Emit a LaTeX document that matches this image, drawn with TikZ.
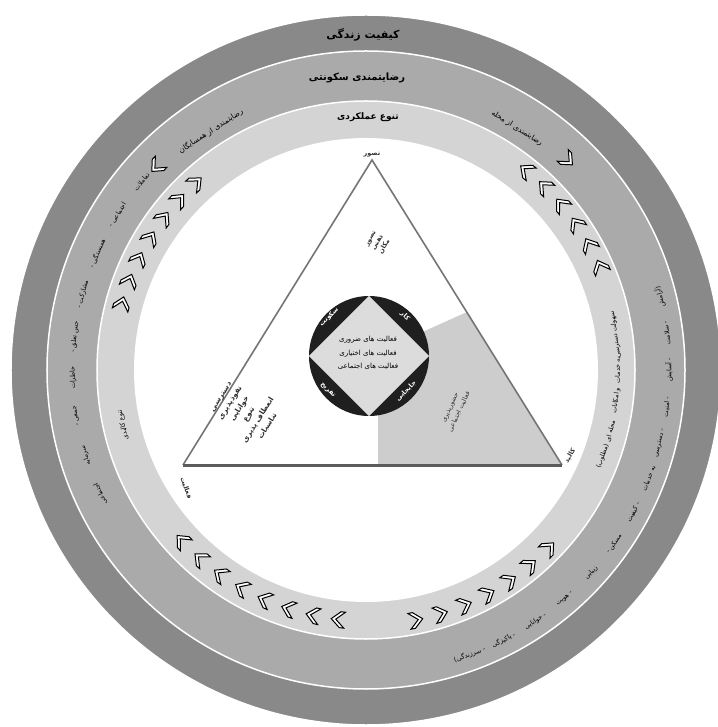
\documentclass[tikz,border=0pt]{standalone}
\usepackage{fontspec}
\newfontfamily\arabicfont[Script=Arabic]{DejaVu Sans}
\TeXXeTstate=1
\usetikzlibrary{positioning}
\definecolor{RingDark}{HTML}{898989}
\definecolor{RingMid}{HTML}{AAAAAA}
\definecolor{RingLight}{HTML}{D4D4D4}
\definecolor{ZoneGray}{HTML}{CDCDCD}
\definecolor{EdgeGray}{HTML}{5C5C5C}
\definecolor{HubDark}{HTML}{1F1F1F}
\definecolor{HubFill}{HTML}{DCDCDC}
\newcommand{\fatext}[1]{{\beginR #1\endR}}

\begin{document}
\begin{tikzpicture}[x=1pt, y=1pt,
    ring/.style={draw=white, line width=1.5pt},
    ringtitle/.style={font=\arabicfont\bfseries\fontsize{11}{12}\selectfont, inner sep=0pt},
    sidetitle/.style={font=\arabicfont\fontsize{7.5}{8}\selectfont, inner sep=0pt},
    arctext/.style={font=\arabicfont\fontsize{6.5}{7}\selectfont, inner sep=0pt},
    hubtext/.style={font=\arabicfont\fontsize{7}{13.5}\selectfont, align=center, inner sep=0pt},
    cornerlabel/.style={font=\arabicfont\bfseries\fontsize{6.5}{7}\selectfont, text=white, inner sep=0pt},
    tritext/.style={font=\arabicfont\bfseries\fontsize{6.5}{8}\selectfont, text=black!80, align=center, inner sep=0pt},
    chev/.pic={\draw[black, line width=1pt, fill=white, line join=miter] (6,0) -- (-3,8) -- (-7.5,8) -- (1.5,0) -- (-7.5,-8) -- (-3,-8) -- cycle;}
  ]
    \useasboundingbox (-366,-357) rectangle (351,370);

    \draw[ring, fill=RingDark] (0,0) circle (355);
    \draw[ring, fill=RingMid] (0,0) circle (319);
    \draw[ring, fill=RingLight] (0,0) circle (269);
    \fill[white] (0,0) circle (232);

    \node[ringtitle] (life) at (-3,335) {\fatext{کیفیت زندگی}};
    \node[ringtitle, font=\arabicfont\bfseries\fontsize{10}{11}\selectfont] (resid) at (-9,292) {\fatext{رضایتمندی سکونتی}};
    \node[ringtitle, font=\arabicfont\bfseries\fontsize{9}{10}\selectfont] (divers) at (2,253) {\fatext{تنوع عملکردی}};

    \node[sidetitle, rotate=33] (neigh) at (123:285) {\fatext{رضایتمندی از همسایگان}};
    \node[sidetitle, rotate=-32] (local) at (58:285) {\fatext{رضایتمندی از محله}};
    \node[arctext, rotate=102.7] (phys) at (192.7:249) {\fatext{تنوع کالبدی}};

    \foreach \a/\w [count=\i] in {140/تعاملات, 148/اجتماعی -, 156.5/همبستگی -, 165/مشارکت -, 173.5/حس تعلق -, 181.5/خاطرات, 189/جمعی -, 197/سرمایه, 205/اجتماعی}
      \node[arctext, rotate=\a-90] (lt-\i) at (\a:293) {\fatext{\w}};

    \foreach \a/\w [count=\i] in {14/(آرامش, 7/- سلامت, 0/- آسایش, -7/- امنیت, -14/- دسترسی, -21/به خدمات, -28/- کیفیت, -35/مسکن -, -42/زیبایی, -49/- هویت, -56/- خوانایی, -63/- پاکیزگی, -70/- سرزندگی)}
      \node[arctext, rotate=\a+90] (rt-\i) at (\a:303) {\fatext{\w}};

    \foreach \a/\w [count=\i] in {8/سهولت دسترسی, 0/به خدمات, -7/و امکانات, -14/محله ای, -20/(مطلوب)}
      \node[arctext, rotate=\a+90] (rl-\i) at (\a:252) {\fatext{\w}};

    \foreach \i in {0,...,6}
      \pic[rotate=132+\i*5.43-90] at (132+\i*5.43:253) {chev};
    \foreach \i in {0,...,5}
      \pic[rotate=51.5-\i*5.5+90] at (51.5-\i*5.5:256) {chev};
    \foreach \i in {0,...,7}
      \pic[rotate=222.6+\i*5.83-90] at (222.6+\i*5.83:251) {chev};
    \foreach \i in {0,...,6}
      \pic[rotate=281.5+\i*5.75+90] at (281.5+\i*5.75:255) {chev};
    \pic[rotate=226] at (136:292) {chev};
    \pic[rotate=-44] at (46:291) {chev};

    \coordinate (apex) at (6,210);
    \coordinate (lc) at (-183,-95);
    \coordinate (rc) at (196,-95);
    \fill[ZoneGray] (12,-95) -- (rc) -- (101,58) -- (3,14) -- (12,14) -- cycle;
    \draw[EdgeGray!85, line width=1.6pt, line join=miter] (lc) -- (apex) -- (rc);
    \draw[EdgeGray, line width=3pt] (lc) -- (rc);

    \node[circle, fill=HubDark, minimum size=120pt, inner sep=0pt] (hub) at (3,14) {};
    \fill[HubFill] (hub.north) -- (hub.east) -- (hub.south) -- (hub.west) -- cycle;
    \node[hubtext] (acts) at (2,17) {\fatext{فعالیت های ضروری}\\ \fatext{فعالیت های اختیاری}\\ \fatext{فعالیت های اجتماعی}};
    \node[cornerlabel, rotate=45] (home) at (-37,53) {\fatext{سکونت}};
    \node[cornerlabel, rotate=-45] (work) at (39,54) {\fatext{کار}};
    \node[cornerlabel, rotate=-45] (leis) at (-38,-20) {\fatext{تفریح}};
    \node[cornerlabel, rotate=45] (move) at (40,-21) {\fatext{جابجایی}};

    \node[tritext, above=3pt of apex] (mean) {\fatext{تصور}};
    \node[tritext, rotate=-70] (act) at (-180,-118) {\fatext{فعالیت}};
    \node[tritext, rotate=60] (form) at (204,-86) {\fatext{کالبد}};
    \node[tritext, rotate=60] (image) at (12,127) {\fatext{تصور}\\ \fatext{ذهنی}\\ \fatext{مکان}};
    \node[tritext, rotate=58, font=\arabicfont\bfseries\fontsize{7.5}{11}\selectfont] (traits) at (-121,-42) {\fatext{دسترسی}\\ \fatext{نفوذپذیری}\\ \fatext{خوانایی}\\ \fatext{تنوع}\\ \fatext{انعطاف پذیری}\\ \fatext{تناسبات}};
    \node[tritext, rotate=65, font=\arabicfont\fontsize{6.5}{10}\selectfont] (social) at (89,-40) {\fatext{حضورپذیری}\\ \fatext{فعالیت اجتماعی}};
\end{tikzpicture}
\end{document}
